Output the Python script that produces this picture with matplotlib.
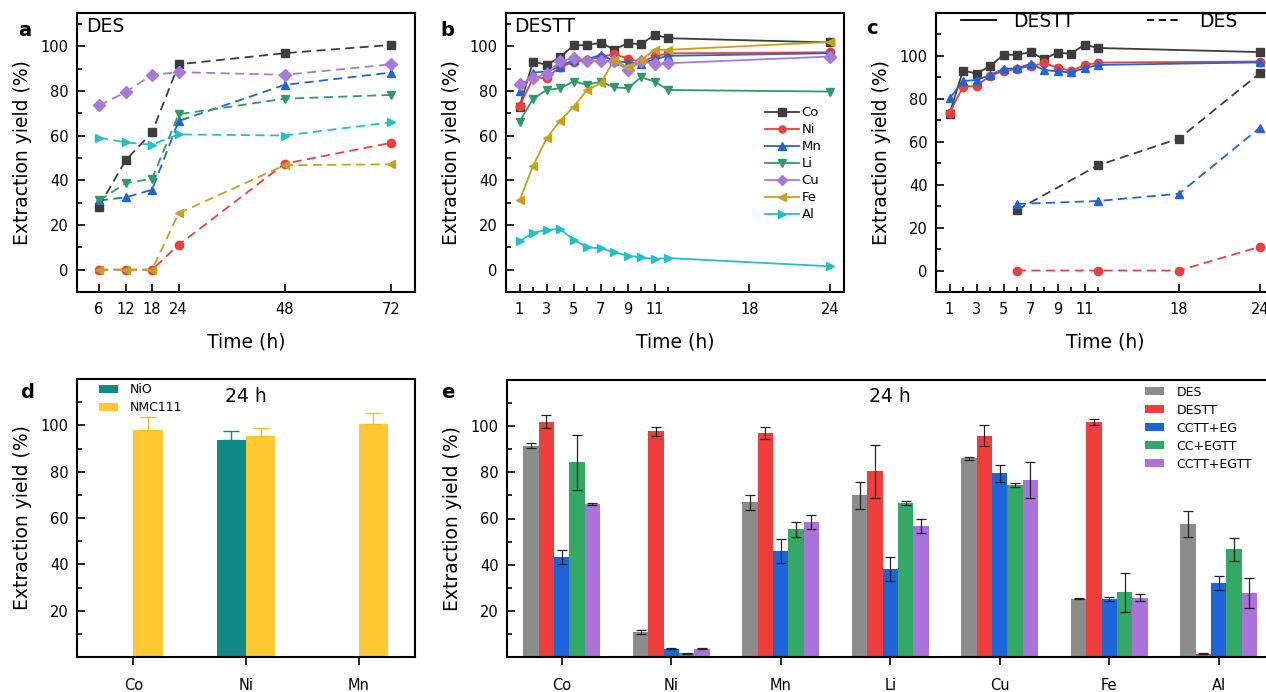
import matplotlib
matplotlib.use('Agg')
import numpy as np
import matplotlib.pyplot as plt
from matplotlib.lines import Line2D
from matplotlib.ticker import MultipleLocator, FixedLocator
from matplotlib.transforms import blended_transform_factory

# ---- panel a: DES, time in h ----
t_des = [6, 12, 18, 24, 48, 72]
des_co = [28.3, 49, 61.5, 92, 97, 100.7]
des_ni = [0, 0, 0, 11.1, 47.5, 56.8]
des_mn = [31, 32.4, 35.8, 66.6, 82.8, 88.3]
des_li = [31, 38.7, 40.8, 69.6, 76.6, 78.3]
des_cu = [73.6, 79.5, 87.3, 88.5, 87.3, 92]
des_fe = [0, 0, 0, 25.3, 46.8, 47.2]
des_al = [59.2, 57, 56, 60.6, 60.1, 66]

# ---- panel b: DESTT ----
t_destt = [1, 2, 3, 4, 5, 6, 7, 8, 9, 10, 11, 12, 24]
destt_co = [73, 93.2, 91.8, 95.2, 100.5, 100.6, 101.7, 98.6, 101.5, 101, 105.3, 103.7, 101.8]
destt_ni = [73.3, 85.7, 86, 90.8, 92.9, 94, 95.2, 96.6, 94.6, 93, 95.6, 96.9, 97.4]
destt_mn = [80.2, 88.3, 88.8, 91, 94, 94.2, 96.3, 93.5, 92.8, 92.3, 94.3, 95.8, 97]
destt_li = [66.3, 76.5, 80.5, 81.3, 84.3, 82.8, 84.3, 81.7, 81.3, 86.2, 84.3, 80.5, 79.8]
destt_cu = [83, 85.8, 87.7, 93.3, 94.8, 93.7, 93.3, 93.7, 89.5, 93.3, 92.2, 92.5, 95.5]
destt_fe = [31, 46.5, 58.8, 66.7, 73, 80.5, 83.5, 94, 90.7, 94, 98.5, 98.5, 102]
destt_al = [12.7, 16.5, 17.8, 18.3, 13.3, 10, 9.6, 7.8, 6.3, 5.5, 4.8, 5.2, 1.5]

metals_ab = ['Co', 'Ni', 'Mn', 'Li', 'Cu', 'Fe', 'Al']
colors_ab = ['#3d3d3d', '#e8403f', '#2065d2', '#2f9a66', '#a77ad8', '#c9a01e', '#20c1c6']
markers_ab = ['s', 'o', '^', 'v', 'D', '<', '>']

# ---- panel d: 24 h, NiO vs NMC111 ----
d_metals = ['Co', 'Ni', 'Mn']
d_nio = [np.nan, 93.6, np.nan]
d_nio_err = [0, 3.8, 0]
d_nmc = [98.1, 95.2, 100.6]
d_nmc_err = [5.6, 3.5, 4.9]

# ---- panel e: 24 h, solvent systems ----
e_metals = ['Co', 'Ni', 'Mn', 'Li', 'Cu', 'Fe', 'Al']
e_series = ['DES', 'DESTT', 'CCTT+EG', 'CC+EGTT', 'CCTT+EGTT']
e_des = [91.5, 10.8, 67, 70, 86.1, 25.3, 57.6]
e_des_err = [1, 0.7, 3.3, 5.8, 0.7, 0.3, 5.5]
e_destt = [102, 97.7, 97.1, 80.4, 95.8, 102, 1.4]
e_destt_err = [3, 1.8, 2.5, 11.6, 4.6, 1.3, 0.3]
e_cctt_eg = [43.3, 3.5, 45.9, 38.1, 79.5, 25.1, 32.2]
e_cctt_eg_err = [3, 0.2, 5.2, 5.1, 3.5, 1, 3]
e_cc_egtt = [84.3, 1.6, 55.3, 66.7, 74.5, 28, 46.6]
e_cc_egtt_err = [11.8, 0.2, 3.3, 0.8, 1, 8.5, 4.8]
e_cctt_egtt = [66.2, 3.6, 58.6, 56.7, 76.6, 25.7, 27.7]
e_cctt_egtt_err = [0.3, 0.2, 3, 3, 7.8, 1.5, 6.4]
e_colors = ['#8c8c8c', '#ef3d3d', '#1c64d8', '#34a866', '#ab72dc']

plt.rcParams['font.family'] = 'DejaVu Sans'
plt.rcParams['axes.linewidth'] = 1.5

fig = plt.figure(figsize=(12.66, 6.92), dpi=100)
W, H = 1266, 692


def box(l, t, r, b):
    return [l / W, 1 - b / H, (r - l) / W, (b - t) / H]


ax_a = fig.add_axes(box(77, 13, 415, 292))
ax_b = fig.add_axes(box(506, 13, 844, 292))
ax_c = fig.add_axes(box(936, 13, 1273.5, 292))
ax_d = fig.add_axes(box(77, 379, 415, 657))
ax_e = fig.add_axes(box(507, 380, 1273.5, 657))

MS = 6


def style_line_ax(ax):
    ax.tick_params(axis='both', which='both', direction='in', top=False, right=False,
                   labelsize=10.5, width=1.2)
    ax.tick_params(which='major', length=6)
    ax.tick_params(which='minor', length=3.5)
    ax.tick_params(axis='x', pad=7)
    ax.tick_params(axis='y', pad=6)
    ax.set_yticks([0, 20, 40, 60, 80, 100])
    ax.yaxis.set_minor_locator(MultipleLocator(10))
    ax.set_xlabel('Time (h)', fontsize=13.5, labelpad=11)
    ax.set_ylabel('Extraction yield (%)', fontsize=13.5, labelpad=6)


# panel a
des_all = [des_co, des_ni, des_mn, des_li, des_cu, des_fe, des_al]
for vals, c, m in zip(des_all, colors_ab, markers_ab):
    ax_a.plot(t_des, vals, ls=(0, (5, 3)), color=c, lw=1.3, marker=m, ms=MS, mec=c, mfc=c)
ax_a.set_xlim(1, 77.5)
ax_a.set_ylim(-10, 115)
ax_a.set_xticks(t_des)
style_line_ax(ax_a)
ax_a.text(0.027, 0.95, 'DES', transform=ax_a.transAxes, fontsize=13.5, va='center', ha='left')

# panel b
destt_all = [destt_co, destt_ni, destt_mn, destt_li, destt_cu, destt_fe, destt_al]
for name, vals, c, m in zip(metals_ab, destt_all, colors_ab, markers_ab):
    ax_b.plot(t_destt, vals, ls='-', color=c, lw=1.3, marker=m, ms=MS, mec=c, mfc=c, label=name)
ax_b.set_xlim(0, 25)
ax_b.set_ylim(-10, 115)
ax_b.set_xticks([1, 3, 5, 7, 9, 11, 18, 24])
ax_b.xaxis.set_minor_locator(FixedLocator([2, 4, 6, 8, 10, 12]))
style_line_ax(ax_b)
ax_b.text(0.024, 0.95, 'DESTT', transform=ax_b.transAxes, fontsize=13.5, va='center', ha='left')
ax_b.legend(loc='upper left', bbox_to_anchor=(0.765, 0.665), frameon=False, fontsize=9.5,
            handlelength=2.6, handletextpad=0.2, labelspacing=0.3, borderpad=0, borderaxespad=0,
            markerscale=0.85)

# panel c
for vals, c, m in zip(destt_all[:3], colors_ab[:3], markers_ab[:3]):
    ax_c.plot(t_destt, vals, ls='-', color=c, lw=1.3, marker=m, ms=MS, mec=c, mfc=c)
for vals, c, m in zip(des_all[:3], colors_ab[:3], markers_ab[:3]):
    ax_c.plot(t_des[:4], vals[:4], ls=(0, (5, 3)), color=c, lw=1.3, marker=m, ms=MS, mec=c, mfc=c)
ax_c.set_xlim(0, 25)
ax_c.set_ylim(-10, 120)
ax_c.set_xticks([1, 3, 5, 7, 9, 11, 18, 24])
ax_c.xaxis.set_minor_locator(FixedLocator([2, 4, 6, 8, 10, 12]))
style_line_ax(ax_c)
c_handles = [Line2D([], [], color='black', lw=1.3, ls='-'),
             Line2D([], [], color='black', lw=1.3, ls=(0, (4, 2.5)))]
ax_c.legend(c_handles, ['DESTT', 'DES'], loc='upper left', bbox_to_anchor=(0.075, 1.005),
            ncol=2, frameon=False, fontsize=13.5, handlelength=1.85, handletextpad=0.9,
            columnspacing=3.9, borderpad=0, borderaxespad=0)


def style_bar_ax(ax):
    ax.tick_params(axis='y', which='both', direction='in', right=False, labelsize=10.5,
                   width=1.2, pad=6)
    ax.tick_params(axis='y', which='major', length=6)
    ax.tick_params(axis='y', which='minor', length=3.5)
    ax.tick_params(axis='x', direction='out', top=False, length=6, width=1.2,
                   labelsize=10.5, pad=9)
    ax.set_ylim(0, 120)
    ax.set_yticks([20, 40, 60, 80, 100])
    ax.yaxis.set_minor_locator(FixedLocator([10, 30, 50, 70, 90, 110]))
    ax.set_ylabel('Extraction yield (%)', fontsize=13.5, labelpad=6)


# panel d
xd = np.arange(1, len(d_metals) + 1)
wd = 0.26
ax_d.bar(xd - wd / 2, d_nio, wd, color='#0f8a86', label='NiO',
         yerr=[np.zeros(3), d_nio_err],
         error_kw=dict(ecolor='#0f8a86', capsize=6, elinewidth=1.0, capthick=1.0))
ax_d.bar(xd + wd / 2, d_nmc, wd, color='#fdc832', label='NMC111',
         yerr=[np.zeros(3), d_nmc_err],
         error_kw=dict(ecolor='#f5bd25', capsize=6, elinewidth=1.0, capthick=1.0))
ax_d.set_xlim(0.5, 3.5)
ax_d.set_xticks(xd)
ax_d.set_xticklabels(d_metals)
style_bar_ax(ax_d)
ax_d.text(2, 1 - 396 / H, '24 h', transform=blended_transform_factory(ax_d.transData, fig.transFigure),
          fontsize=13.5, ha='center', va='center')
ax_d.legend(loc='upper left', bbox_to_anchor=(0.065, 0.985), frameon=False, fontsize=9,
            handlelength=1.5, handleheight=0.6, handletextpad=1.0, labelspacing=0.4,
            borderpad=0, borderaxespad=0)

# panel e
xe = np.arange(1, len(e_metals) + 1)
we = 0.14
e_vals = [e_des, e_destt, e_cctt_eg, e_cc_egtt, e_cctt_egtt]
e_errs = [e_des_err, e_destt_err, e_cctt_eg_err, e_cc_egtt_err, e_cctt_egtt_err]
for i, (name, vals, errs, c) in enumerate(zip(e_series, e_vals, e_errs, e_colors)):
    ax_e.bar(xe + (i - 2) * we, vals, we, color=c, label=name, yerr=errs,
             error_kw=dict(ecolor='#222222', capsize=3.5, elinewidth=0.9, capthick=0.9))
ax_e.set_xlim(0.5, 7.5)
ax_e.set_xticks(xe)
ax_e.set_xticklabels(e_metals)
style_bar_ax(ax_e)
ax_e.text(4, 1 - 396 / H, '24 h', transform=blended_transform_factory(ax_e.transData, fig.transFigure),
          fontsize=13.5, ha='center', va='center')
ax_e.legend(loc='upper left', bbox_to_anchor=(0.833, 0.98), frameon=False, fontsize=9,
            handlelength=1.5, handleheight=0.6, handletextpad=1.0, labelspacing=0.4,
            borderpad=0, borderaxespad=0)

for lab, x, y in [('a', 18, 30), ('b', 440, 30), ('c', 866, 28), ('d', 20, 393), ('e', 441, 393)]:
    fig.text(x / W, 1 - y / H, lab, fontsize=14, fontweight='bold', ha='left', va='center')

fig.savefig('out.png', dpi=100)
